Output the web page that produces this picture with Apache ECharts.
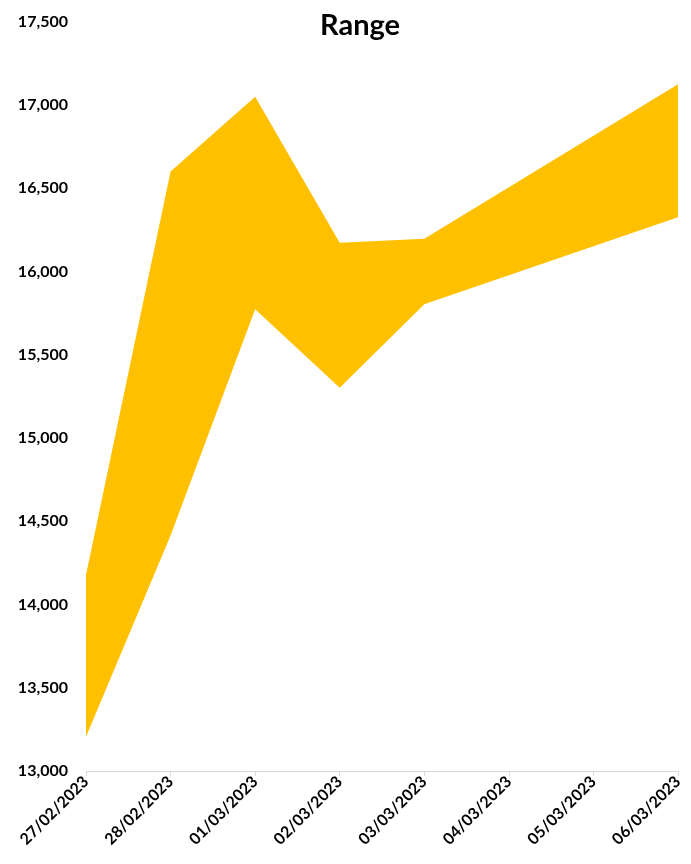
<!DOCTYPE html>
<html>
<head>
<meta charset="utf-8">
<script src="https://cdn.jsdelivr.net/npm/echarts@6/dist/echarts.min.js"></script>
<style>
  html, body { margin: 0; padding: 0; background: #fff; }
  #chart { width: 691px; height: 864px; }
</style>
</head>
<body>
<div id="chart"></div>
<script>
// Daily high / low range, trading days only (04/03 and 05/03 have no data)
const dates = ['2023-02-27', '2023-02-28', '2023-03-01', '2023-03-02', '2023-03-03', '2023-03-06'];
const highValues = [14177, 16600, 17050, 16173, 16197, 17124];
const lowValues  = [13206, 14415, 15773, 15302, 15803, 16325];

const yMin = 13000;
const yMax = 17500;
const yStep = 500;
const DAY = 86400000;

// The band is drawn as a transparent base (low) with the high-low spread stacked on top
const baseData = dates.map((d, i) => [d, lowValues[i]]);
const spreadData = dates.map((d, i) => [d, highValues[i] - lowValues[i]]);

const chart = echarts.init(document.getElementById('chart'), null, { renderer: 'canvas' });

const fontFamily = 'Lato, "Open Sans", sans-serif';

chart.setOption({
  animation: false,
  backgroundColor: '#ffffff',
  title: {
    text: 'Range',
    left: 315,
    top: 6,
    textStyle: { fontFamily, fontWeight: 'bold', fontSize: 29, color: '#000000' }
  },
  grid: { left: 86, right: 13, top: 21.7, bottom: 93, containLabel: false },
  xAxis: {
    type: 'time',
    min: '2023-02-27',
    max: '2023-03-06',
    minInterval: DAY,
    maxInterval: DAY,
    splitLine: { show: false },
    axisLine: { show: true, lineStyle: { color: '#D9D9D9', width: 1 } },
    axisTick: { show: true, length: 5, lineStyle: { color: '#D9D9D9' } },
    axisLabel: {
      rotate: 45,
      interval: 0,
      hideOverlap: false,
      showMinLabel: true,
      showMaxLabel: true,
      margin: 8,
      color: '#000000',
      fontFamily,
      fontWeight: 'bold',
      fontSize: 16,
      formatter: function (value) {
        const d = new Date(value);
        const dd = String(d.getDate()).padStart(2, '0');
        const mm = String(d.getMonth() + 1).padStart(2, '0');
        return dd + '/' + mm + '/' + d.getFullYear();
      }
    }
  },
  yAxis: {
    type: 'value',
    min: yMin,
    max: yMax,
    interval: yStep,
    splitLine: { show: false },
    axisLine: { show: false },
    axisTick: { show: false },
    axisLabel: {
      margin: 18,
      color: '#000000',
      fontFamily,
      fontWeight: 'bold',
      fontSize: 16,
      formatter: v => v.toLocaleString('en-US')
    }
  },
  series: [
    {
      name: 'Low',
      type: 'line',
      stack: 'range',
      data: baseData,
      symbol: 'none',
      lineStyle: { opacity: 0 },
      areaStyle: { opacity: 0 },
      silent: true
    },
    {
      name: 'Range',
      type: 'line',
      stack: 'range',
      data: spreadData,
      symbol: 'none',
      lineStyle: { opacity: 0 },
      areaStyle: { color: '#FFC000', opacity: 1 }
    }
  ]
});
</script>
</body>
</html>
